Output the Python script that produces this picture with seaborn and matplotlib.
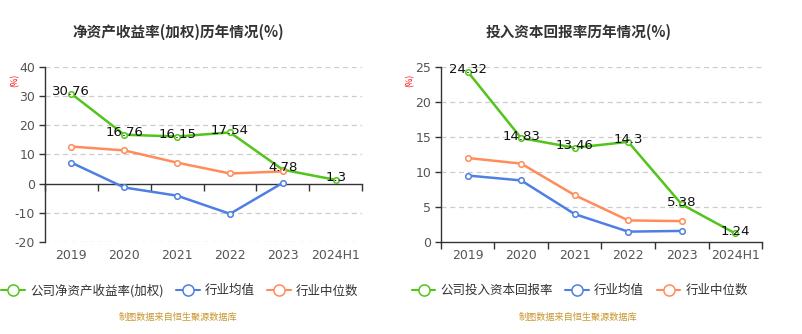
import matplotlib
matplotlib.use("Agg")
import matplotlib.pyplot as plt
from matplotlib.lines import Line2D
import seaborn as sns
import pandas as pd
import numpy as np

sns.set_style("white")
plt.rcParams['font.family'] = ['Noto Sans CJK SC', 'DejaVu Sans']
plt.rcParams['axes.unicode_minus'] = False

years = ["2019", "2020", "2021", "2022", "2023", "2024H1"]

roe_company = [30.76, 16.76, 16.15, 17.54, 4.78, 1.3]
roe_avg = [7.2, -1.3, -4.1, -10.3, 0.3]
roe_median = [12.7, 11.4, 7.2, 3.5, 4.2]

roic_company = [24.32, 14.83, 13.46, 14.3, 5.38, 1.24]
roic_avg = [9.5, 8.8, 4.0, 1.5, 1.6]
roic_median = [12.0, 11.2, 6.7, 3.1, 3.0]

titles = ["净资产收益率(加权)历年情况(%)", "投入资本回报率历年情况(%)"]
company_names = ["公司净资产收益率(加权)", "公司投入资本回报率"]
avg_name = "行业均值"
median_name = "行业中位数"
source_text = "制图数据来自恒生聚源数据库"

GREEN = "#52c41a"
BLUE = "#4f7fe3"
ORANGE = "#ff8c5a"
TEXT = "#333333"
AXIS = "#333333"

fig = plt.figure(figsize=(8.03, 3.34), dpi=100)
ax1 = fig.add_axes([0.056, 0.275, 0.395, 0.525])
ax2 = fig.add_axes([0.549, 0.275, 0.400, 0.525])


def draw(ax, company, avg, median, ylim, yticks, title, cname, title_x, legend_x):
    series = [(cname, company, GREEN), (avg_name, avg, BLUE), (median_name, median, ORANGE)]
    for name, vals, col in series:
        df = pd.DataFrame({"x": np.arange(len(vals)), "y": vals})
        sns.lineplot(data=df, x="x", y="y", ax=ax, color=col, linewidth=1.8,
                     marker="o", markersize=4, markerfacecolor="white",
                     markeredgecolor=col, markeredgewidth=1.1, zorder=3)
    for i, v in enumerate(company):
        ax.annotate(str(v), (i, v), xytext=(0, 1.5), textcoords="offset points",
                    ha="center", va="center", fontsize=9.5, color="#111111",
                    family=['DejaVu Sans'], zorder=5)
    ax.set_xlim(-0.5, len(years) - 0.5)
    ax.set_ylim(*ylim)
    ax.set_yticks(yticks)
    ax.set_yticklabels([str(t) for t in yticks], fontsize=9, color="#555555",
                       family=['DejaVu Sans'])
    for t in yticks:
        if t != 0:
            ax.axhline(t, color="#cccccc", linewidth=0.9, linestyle=(0, (4, 3)), zorder=1)
    ax.set_xlabel("")
    ax.set_ylabel("")
    for s in ["top", "right"]:
        ax.spines[s].set_visible(False)
    ax.spines["left"].set_color(AXIS)
    ax.spines["left"].set_linewidth(1.0)
    ax.spines["bottom"].set_position(("data", 0))
    ax.spines["bottom"].set_color(AXIS)
    ax.spines["bottom"].set_linewidth(1.0)
    ax.tick_params(axis="y", length=4, width=1, color=AXIS, pad=3, left=True)
    ax.set_xticks(np.arange(-0.5, len(years), 1.0))
    ax.set_xticklabels([])
    ax.tick_params(axis="x", length=5, width=1, color=AXIS, bottom=True, direction="out")
    sec = ax.secondary_xaxis(0.0)
    sec.set_xticks(np.arange(len(years)))
    sec.set_xticklabels(years, fontsize=9, color="#555555", family=['DejaVu Sans'])
    sec.tick_params(length=0, pad=5)
    sec.spines["bottom"].set_visible(False)
    ax.text(-0.095, 0.92, "(%)", transform=ax.transAxes, rotation=90, color="red",
            fontsize=6, ha="center", va="center")
    fig.text(title_x, 0.905, title, ha="center", va="center", fontsize=10.5,
             fontweight="bold", color=TEXT)
    handles = [Line2D([0], [0], color=c, linewidth=1.5, marker="o", markersize=8,
                      markerfacecolor="white", markeredgecolor=c, markeredgewidth=1.1)
               for c in (GREEN, BLUE, ORANGE)]
    fig.legend(handles, [cname, avg_name, median_name], loc="center",
               bbox_to_anchor=(legend_x, 0.13), ncol=3, frameon=False,
               fontsize=9, handlelength=1.9, columnspacing=1.0, handletextpad=0.4,
               labelcolor=TEXT)
    fig.text(title_x, 0.05, source_text, ha="center", va="center", fontsize=6.6,
             color="#c8962e")


draw(ax1, roe_company, roe_avg, roe_median, (-20, 40), [-20, -10, 0, 10, 20, 30, 40],
     titles[0], company_names[0], 0.222, 0.224)
draw(ax2, roic_company, roic_avg, roic_median, (0, 25), [0, 5, 10, 15, 20, 25],
     titles[1], company_names[1], 0.720, 0.722)

fig.savefig("out.png", dpi=100)
